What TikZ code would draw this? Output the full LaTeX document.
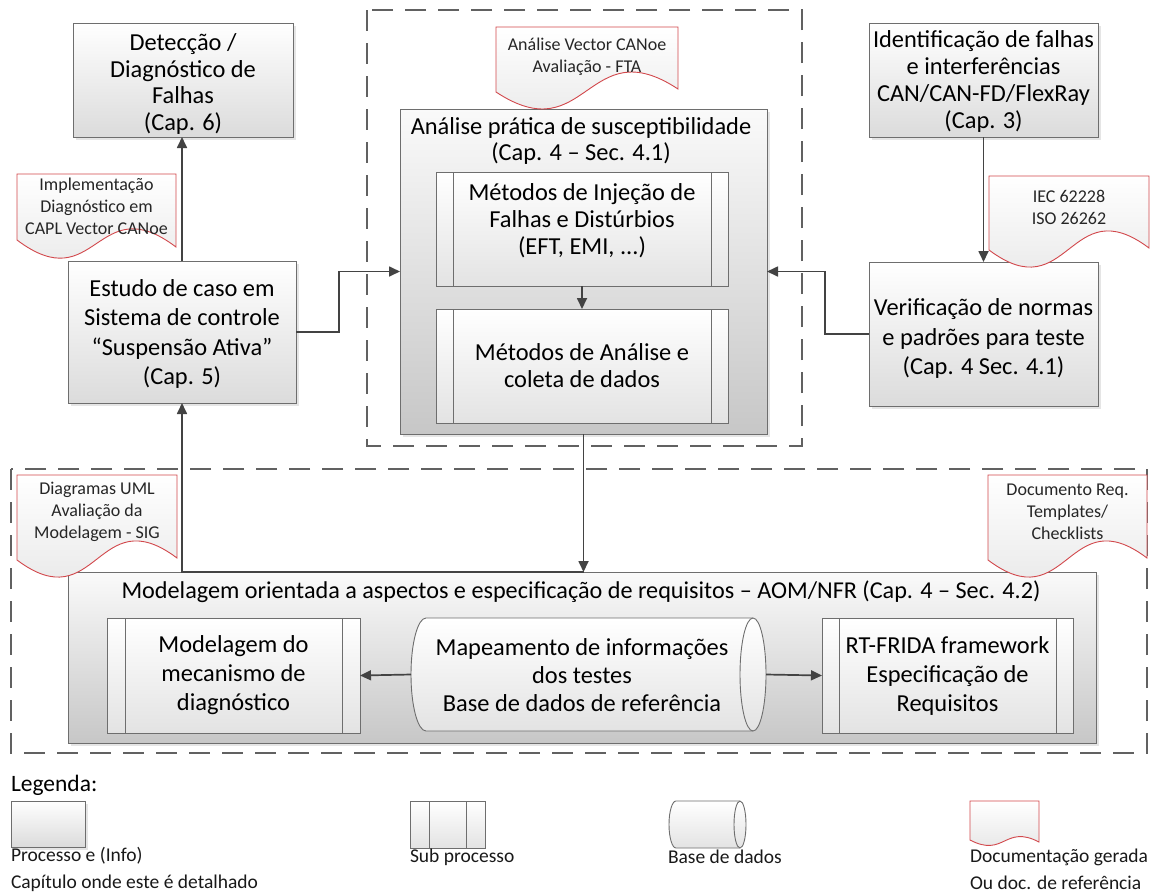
\documentclass[tikz,border=0pt]{standalone}
\usepackage{fontspec}
\setmainfont{Carlito}
\usetikzlibrary{arrows.meta,shadows}

\definecolor{docred}{HTML}{D2484C}
\definecolor{edge}{HTML}{6E6E6E}
\definecolor{wire}{HTML}{434343}

% document symbol with a wavy lower edge: x1, ytop, x2, y left end, y right end, wave height
\newcommand\mkdoc[6]{%
  \draw[docsty] (#1,-#2) -- (#3,-#2) -- (#3,-#5)
    .. controls ({(#1+#3)/2},{-#5+#6}) and ({(#1+#3)/2},{-#4-#6}) .. (#1,-#4) -- cycle;}

% horizontal data store: left corner x, left radius, right centre x, right radius, ytop, ybottom
\newcommand\mkcyl[6]{%
  \pgfmathsetmacro\cylry{(#6-#5)/2}
  \draw[cylsty] (#1,-#5) -- (#3,-#5)
    arc[start angle=90,end angle=-90,x radius=#4,y radius=\cylry]
    -- (#1,-#6) arc[start angle=270,end angle=90,x radius=#2,y radius=\cylry] -- cycle;
  \draw[boxline] (#3,-#5) arc[start angle=90,end angle=270,x radius=#4,y radius=\cylry];}

% the two inner bars of a sub-process box
\newcommand\subbars[2]{%
  \draw[boxline] ([xshift=#2]#1.north west) -- ([xshift=#2]#1.south west);
  \draw[boxline] ([xshift=-#2]#1.north east) -- ([xshift=-#2]#1.south east);}

\begin{document}
\begin{tikzpicture}[x=1pt,y=1pt,
  every node/.style={inner sep=0pt,outer sep=0pt},
  boxline/.style={draw=edge,line width=0.9pt},
  shadowed/.style={drop shadow={shadow xshift=2.5pt,shadow yshift=-2.5pt,opacity=0.2}},
  bigtext/.style={align=center,font=\fontsize{24.4}{26.8}\selectfont},
  loosetext/.style={align=center,font=\fontsize{24.4}{29.5}\selectfont},
  proc/.style={boxline,shadowed,rectangle,top color=white,bottom color=black!14},
  cont/.style={boxline,shadowed,rectangle,top color=black!2,bottom color=black!22},
  sub/.style={boxline,rectangle,top color=white,bottom color=black!11},
  cylsty/.style={boxline,top color=white,bottom color=black!11},
  docsty/.style={draw=docred,line width=0.9pt,top color=white,bottom color=black!11},
  doctext/.style={align=center,font=\fontsize{18}{22}\selectfont,text=black!85},
  grp/.style={draw=black!62,line width=1.4pt,dash pattern=on 21pt off 12pt},
  conn/.style={draw=wire,line width=1.7pt,-{Triangle[length=11pt,width=10pt]}},
  legtext/.style={align=left,font=\fontsize{19.5}{27}\selectfont,text=black!90}]

\fill[white] (0,0) rectangle (1153,-895);
\useasboundingbox (0,0) rectangle (1153,-895);

% group frames
\draw[grp] (367,-10) rectangle (802,-446);
\draw[grp] (11,-469) rectangle (1147,-753);

% upper row of processes
\node[proc,minimum width=220,minimum height=114] (det) at (183,-80) {};
\node[bigtext] (dett) at (183,-84) {Detecção /\\Diagnóstico de\\Falhas\\(Cap. 6)};
\node[proc,minimum width=229,minimum height=114] (idf) at (983.5,-80) {};
\node[bigtext] (idft) at (983.5,-81.5) {Identificação de falhas\\e interferências\\CAN/CAN-FD/FlexRay\\(Cap. 3)};
\node[proc,minimum width=228,minimum height=142] (est) at (182,-332) {};
\node[loosetext] (estt) at (182,-334) {Estudo de caso em\\Sistema de controle\\“Suspensão Ativa”\\(Cap. 5)};
\node[proc,minimum width=229,minimum height=144] (ver) at (983.5,-334) {};
\node[loosetext] (vert) at (983.5,-338.5) {Verificação de normas\\e padrões para teste\\(Cap. 4 Sec. 4.1)};

% susceptibility analysis
\node[cont,minimum width=367,minimum height=325] (anl) at (583.5,-271.5) {};
\node[align=center,font=\fontsize{24.4}{25.5}\selectfont] (anltit) at (581,-141)
  {Análise prática de susceptibilidade\\(Cap. 4 – Sec. 4.1)};
\node[sub,minimum width=292,minimum height=114] (inj) at (582,-229) {};
\node[bigtext] (injt) at (582,-221) {Métodos de Injeção de\\Falhas e Distúrbios\\(EFT, EMI, ...)};
\subbars{inj}{17pt}
\node[sub,bigtext,minimum width=292,minimum height=114] (ana) at (582,-366)
  {Métodos de Análise e\\coleta de dados};
\subbars{ana}{17pt}

% aspect-oriented modelling
\node[cont,minimum width=1028,minimum height=171] (mod) at (582,-657.5) {};
\node[font=\fontsize{24.2}{27}\selectfont] (modtit) at (581,-592)
  {Modelagem orientada a aspectos e especificação de requisitos – AOM/NFR (Cap. 4 – Sec. 4.2)};
\node[sub,font=\fontsize{24.4}{29}\selectfont,align=center,minimum width=253,minimum height=115] (mec) at (233.5,-675.5)
  {Modelagem do\\mecanismo de\\diagnóstico};
\subbars{mec}{18pt}
\node[sub,font=\fontsize{24.4}{29}\selectfont,align=center,minimum width=251,minimum height=115] (rtf) at (947.5,-675.5)
  {RT-FRIDA framework\\Especificação de\\Requisitos};
\subbars{rtf}{17pt}
\mkcyl{426}{15}{753}{13}{618}{731}
\node[minimum width=355,minimum height=113] (map) at (588.5,-674.5) {};
\node[align=center,font=\fontsize{24.4}{28}\selectfont] (maptxt) at (582,-675)
  {Mapeamento de informações\\dos testes\\Base de dados de referência};

% documents
\mkdoc{17}{174}{176}{240}{247}{60}
\node[doctext] (d1) at (96.5,-206.5) {Implementação\\Diagnóstico em\\CAPL Vector CANoe};
\mkdoc{496}{27}{678}{92}{89}{60}
\node[doctext] (d2) at (587,-56.5) {Análise Vector CANoe\\Avaliação - FTA};
\mkdoc{989}{176}{1149}{250}{248}{60}
\node[doctext] (d3) at (1069,-207.5) {IEC 62228\\ISO 26262};
\mkdoc{17}{475}{177}{560}{558}{60}
\node[doctext] (d4) at (97,-511.5) {Diagramas UML\\Avaliação da\\Modelagem - SIG};
\mkdoc{988}{475}{1147}{560}{558}{60}
\node[doctext] (d5) at (1067.5,-511.5) {Documento Req.\\Templates/\\Checklists};

% connectors
\draw[conn] (est.north) -- (est.north |- det.south);
\draw[conn] (est.east) -- ++(43,0) |- (anl.west);
\draw[conn] (ver.west) -- ++(-44,0) |- (anl.east);
\draw[conn] (idf.south) -- (ver.north);
\draw[conn] (inj.south) -- (ana.north);
\draw[conn] (anl.south) -- (anl.south |- mod.north);
\draw[conn] (anl.south |- mod.north) -| (est.south);
\draw[conn] (map.west) -- (mec.east);
\draw[conn] (map.east) -- (rtf.west);

% legend
\node[anchor=west,font=\fontsize{23.5}{26}\selectfont] (leg) at (11,-785) {Legenda:};
\node[proc,minimum width=74,minimum height=46] (lg1) at (48,-824) {};
\node[legtext,anchor=west] (lg1t) at (11,-869.5) {Processo e (Info)\\Capítulo onde este é detalhado};
\node[sub,minimum width=75,minimum height=47] (lg2) at (447.5,-824.5) {};
\subbars{lg2}{19pt}
\node[legtext,anchor=west] (lg2t) at (410,-857) {Sub processo};
\mkcyl{676}{7}{740}{6}{801}{848}
\node[legtext,anchor=west] (lg3t) at (668,-857) {Base de dados};
\mkdoc{970}{801}{1039}{840}{842}{18}
\node[legtext,anchor=west] (lg4t) at (970,-869.5) {Documentação gerada\\Ou doc. de referência};

\end{tikzpicture}
\end{document}
